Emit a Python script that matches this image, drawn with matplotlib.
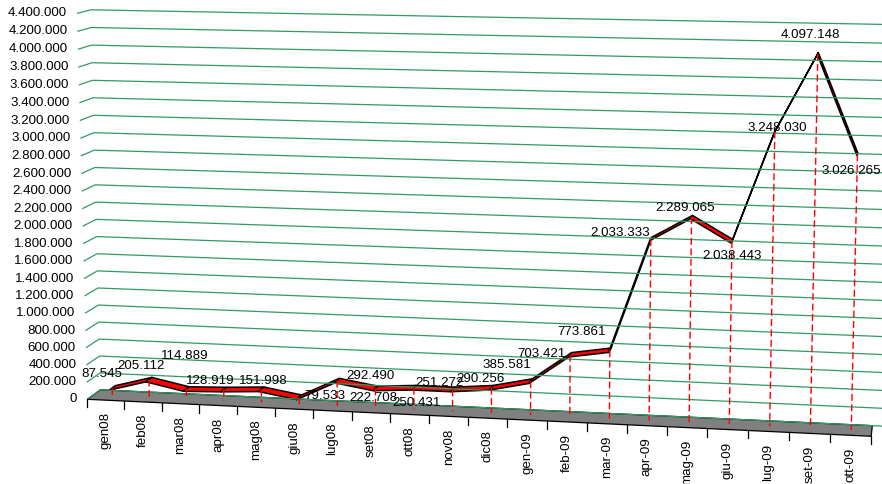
"""
Vendite mensili gen08 - ott09, grafico a linee 3D (stile Excel) ricostruito con matplotlib.
"""
import numpy as np
import matplotlib
matplotlib.use("Agg")
import matplotlib.pyplot as plt
from matplotlib.patches import Polygon

MONTHS = ["gen08", "feb08", "mar08", "apr08", "mag08", "giu08", "lug08", "set08",
          "ott08", "nov08", "dic08", "gen-09", "feb-09", "mar-09", "apr-09", "mag-09",
          "giu-09", "lug-09", "set-09", "ott-09"]
VALUES = [87545, 205112, 114889, 128919, 151998, 79533, 292490, 222708,
          250431, 251272, 290256, 385581, 703421, 773861, 2033333, 2289065,
          2038443, 3248030, 4097148, 3026265]
Y_TICKS = list(range(0, 4_400_001, 200_000))

# where Excel dropped each data label, relative to its point (pixels, y down)
LABEL_SHIFT = [(-10, -14), (-8, -14), (-2, -33), (-13, -9), (2, -8), (26, -1),
               (33, -5), (-2, 10), (3, 15), (-13, -6), (-11, -9), (-24, -16),
               (-29, -1), (-28, -18), (-31, -6), (-6, -9), (0, 15), (2, -4),
               (-7, -19), (-6, 17)]

# box corners: (category, value in millions, depth 0=front 1=back) -> pixel
FRAME_ANCHORS = [
    ((-0.5, 4.4, 0.0), (77.3, 13.3)),
    ((-0.5, 2.4, 0.0), (81.7, 190.7)),
    ((-0.5, 0.0, 0.0), (87.3, 399.3)),
    ((-0.5, 4.4, 1.0), (90.0, 10.0)),
    ((-0.5, 2.4, 1.0), (95.6, 185.0)),
    ((-0.5, 0.0, 1.0), (100.5, 390.0)),
    ((4.5, 0.0, 0.0), (275.0, 408.0)),
    ((9.5, 0.0, 0.0), (468.0, 417.5)),
    ((14.5, 0.0, 0.0), (667.0, 427.0)),
    ((19.5, 0.0, 0.0), (871.0, 436.5)),
    ((19.5, 0.0, 1.0), (872.5, 425.0)),
    ((19.5, 4.4, 1.0), (882.0, 24.5)),
]

W, H = 882, 484
GRID = "#339966"
FLOOR = "#808080"
RED = "#ff0000"
FONT = ["Liberation Sans", "DejaVu Sans"]
SERIES_DEPTH = 0.5
RIBBON = (0.26, 0.74)


def it_number(v):
    return f"{v:,}".replace(",", ".")


def fit_camera(anchors):
    rows = []
    for (u, v, w), (x, y) in anchors:
        x, y = x / 100, y / 100
        X = [u, v, w, 1.0]
        rows.append(X + [0, 0, 0, 0] + [-x * c for c in X])
        rows.append([0, 0, 0, 0] + X + [-y * c for c in X])
    _, _, vt = np.linalg.svd(np.asarray(rows, float))
    return vt[-1].reshape(3, 4)


CAM = fit_camera(FRAME_ANCHORS)


def project(u, v, w):
    u, v, w = np.broadcast_arrays(np.asarray(u, float), np.asarray(v, float) / 1e6,
                                  np.asarray(w, float))
    pts = np.stack([u, v, w, np.ones_like(u)], axis=-1) @ CAM.T
    return 100 * pts[..., 0] / pts[..., 2], 100 * pts[..., 1] / pts[..., 2]


def main():
    plt.rcParams["font.family"] = FONT
    plt.rcParams["lines.scale_dashes"] = False
    fig = plt.figure(figsize=(W / 100, H / 100), dpi=100)
    ax = fig.add_axes([0, 0, 1, 1])
    ax.set_xlim(0, W)
    ax.set_ylim(H, 0)
    ax.axis("off")

    n = len(MONTHS)
    idx = np.arange(n)
    vals = np.asarray(VALUES, float)

    # gridlines on side wall + back wall, value labels
    for t in Y_TICKS:
        xs, ys = project([-0.5, -0.5, n + 0.5], [t] * 3, [0, 1, 1])
        ax.plot(xs, ys, color=GRID, lw=0.9, solid_capstyle="butt")
        x0, y0 = project(-0.5, t, 0)
        ax.text(x0 - 10, y0, it_number(t), ha="right", va="center", fontsize=9.6)

    # floor
    fx, fy = project([-0.5, n - 0.5, n - 0.5, -0.5], 0, [0, 0, 1, 1])
    ax.add_patch(Polygon(np.column_stack([fx, fy]), closed=True, facecolor=FLOOR,
                         edgecolor="black", lw=0.9))

    # tick marks and month labels
    for k in range(n + 1):
        tx, ty = project(k - 0.5, 0, 0)
        ax.plot([tx, tx], [ty, ty + 8], color="black", lw=0.9)
    for i, m in enumerate(MONTHS):
        lx, ly = project(i, 0, 0)
        ax.text(lx, ly + 12, m, rotation=90, ha="center", va="top", fontsize=9.6)

    # drop lines
    for i, v in zip(idx, vals):
        xs, ys = project([i, i], [v, 0], SERIES_DEPTH)
        ax.plot(xs, ys, color=RED, lw=1.0, dashes=(5, 2.5))

    # 3D ribbon
    fxs, fys = project(idx, vals, RIBBON[0])
    bxs, bys = project(idx, vals, RIBBON[1])
    for i in range(n - 1):
        quad = [(fxs[i], fys[i]), (fxs[i + 1], fys[i + 1]),
                (bxs[i + 1], bys[i + 1]), (bxs[i], bys[i])]
        ax.add_patch(Polygon(quad, closed=True, facecolor=RED, edgecolor="black",
                             lw=1.1, joinstyle="round"))

    # data labels
    px, py = project(idx, vals, SERIES_DEPTH)
    for i, v in enumerate(VALUES):
        dx, dy = LABEL_SHIFT[i]
        ax.text(px[i] + dx, py[i] + dy, it_number(v), ha="center", va="center",
                fontsize=9.6)

    fig.savefig("out.png", dpi=100, facecolor="white")
    plt.close(fig)


if __name__ == "__main__":
    main()
